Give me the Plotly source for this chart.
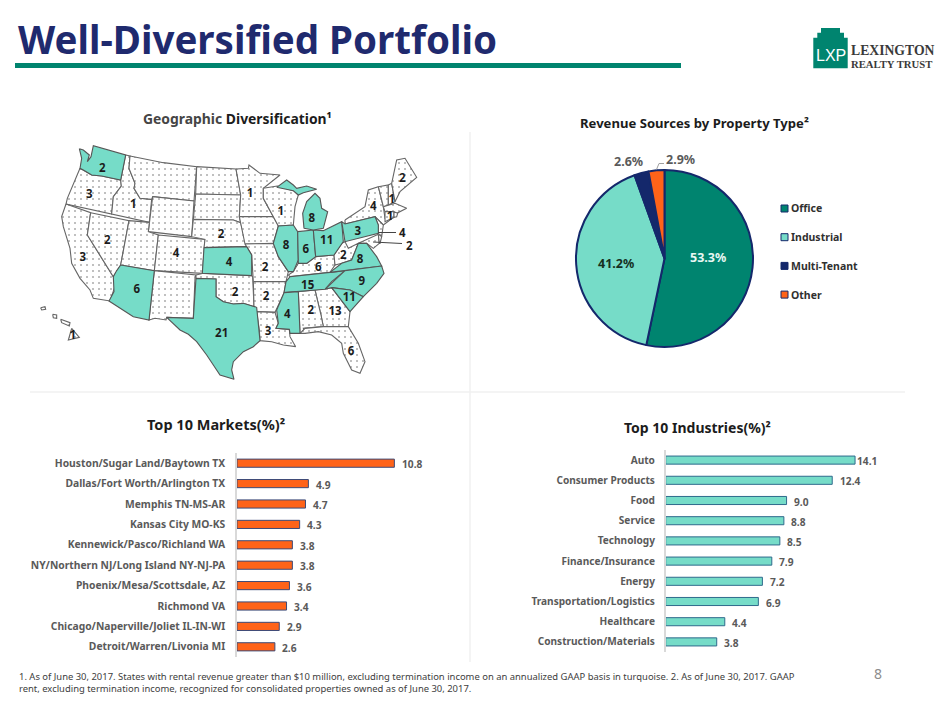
import plotly.graph_objects as go

W, H = 952, 701

# ---- data ----
market_names = ["Houston/Sugar Land/Baytown TX", "Dallas/Fort Worth/Arlington TX", "Memphis TN-MS-AR",
                "Kansas City MO-KS", "Kennewick/Pasco/Richland WA", "NY/Northern NJ/Long Island NY-NJ-PA",
                "Phoenix/Mesa/Scottsdale, AZ", "Richmond VA", "Chicago/Naperville/Joliet IL-IN-WI",
                "Detroit/Warren/Livonia MI"]
market_values = [10.8, 4.9, 4.7, 4.3, 3.8, 3.8, 3.6, 3.4, 2.9, 2.6]

industry_names = ["Auto", "Consumer Products", "Food", "Service", "Technology", "Finance/Insurance",
                  "Energy", "Transportation/Logistics", "Healthcare", "Construction/Materials"]
industry_values = [14.1, 12.4, 9.0, 8.8, 8.5, 7.9, 7.2, 6.9, 4.4, 3.8]

property_types = ["Office", "Industrial", "Multi-Tenant", "Other"]
property_values = [53.3, 41.2, 2.6, 2.9]

# outlines are in map units (1260 x 870 frame), the library has no offline state shapes
state_outlines = {
    "WA": [(148,146),(160,150),(178,165),(172,185),(183,170),(190,137),(287,165),(272,240),(215,228),(185,225),(160,210),(150,205),(155,175)],
    "OR": [(150,205),(160,210),(185,225),(215,228),(272,240),(274,258),(250,290),(245,342),(108,312),(112,295),(128,255)],
    "CA": [(108,312),(182,338),(172,405),(250,530),(258,550),(240,603),(190,595),(180,570),(150,535),(125,490),(120,445),(100,380),(95,350)],
    "NV": [(182,338),(297,362),(272,495),(258,515),(250,530),(172,405)],
    "ID": [(287,165),(300,168),(297,205),(315,250),(312,265),(330,295),(365,298),(358,367),(245,342),(250,290),(274,258),(272,240)],
    "MT": [(300,168),(400,188),(500,200),(492,303),(368,290),(365,298),(330,295),(312,265),(315,250),(297,205)],
    "WY": [(368,290),(492,303),(485,410),(355,395)],
    "UT": [(297,362),(358,367),(355,395),(385,405),(373,512),(272,495)],
    "CO": [(385,405),(525,418),(517,520),(373,512)],
    "NM": [(373,512),(498,525),(495,535),(490,655),(410,652),(408,660),(375,655),(357,660)],
    "ND": [(500,200),(618,207),(632,285),(497,282)],
    "SD": [(497,282),(632,285),(628,350),(632,368),(610,360),(490,358)],
    "NE": [(490,358),(610,360),(632,368),(650,440),(522,443),(525,418),(485,410)],
    "OK": [(498,525),(520,520),(665,527),(668,530),(672,620),(640,610),(610,612),(580,605),(558,590),(558,537),(498,535)],
    "MN": [(618,207),(655,205),(657,195),(690,220),(750,225),(700,265),(700,295),(730,350),(628,350),(632,285)],
    "IA": [(628,350),(730,350),(745,378),(730,430),(645,432),(632,368)],
    "MO": [(645,432),(730,430),(745,470),(775,515),(768,545),(670,545),(665,465)],
    "AR": [(670,545),(768,545),(762,580),(740,630),(735,637),(680,635),(672,620)],
    "LA": [(680,635),(735,637),(745,670),(738,685),(778,688),(780,710),(797,740),(775,738),(760,735),(725,725),(690,722),(688,690)],
    "WI": [(700,265),(742,258),(790,272),(805,285),(795,320),(790,375),(745,378),(730,350),(700,295)],
    "KY": [(775,525),(790,515),(805,490),(830,490),(857,470),(912,465),(915,495),(900,517),(780,530)],
    "WV": [(912,465),(935,430),(945,425),(955,445),(985,430),(965,480),(935,490),(915,495)],
    "GA": [(855,570),(905,563),(960,635),(955,680),(880,680),(873,645)],
    "AL": [(805,575),(855,570),(873,645),(880,680),(820,685),(825,700),(810,700)],
    "FL": [(810,700),(825,685),(880,680),(955,680),(985,730),(1005,785),(990,820),(965,810),(940,760),(935,730),(905,705),(865,695),(825,700)],
    "NY": [(945,360),(1005,320),(1015,270),(1045,260),(1060,320),(1065,355),(1100,345),(1060,375),(1035,350),(945,372)],
    "NJ": [(1035,350),(1060,375),(1055,410),(1045,400),(1045,375)],
    "MD": [(985,430),(1045,403),(1048,430),(1030,445),(1010,430)],
    "DE": [(1045,403),(1055,410),(1050,430),(1048,430)],
    "VT": [(1045,260),(1075,255),(1075,315),(1060,320)],
    "NH": [(1075,255),(1085,250),(1095,305),(1075,315)],
    "ME": [(1085,250),(1100,180),(1125,175),(1160,232),(1110,275),(1095,305)],
    "MA": [(1060,320),(1095,310),(1130,325),(1100,340),(1065,335)],
    "CT": [(1065,335),(1092,335),(1092,352),(1065,365)],
    "RI": [(1092,335),(1103,340),(1100,350),(1092,352)],
    "HI1": [(32,623),(45,620),(47,628),(35,630)],
    "HI2": [(68,643),(80,645),(80,655),(70,653)],
    "HI3": [(92,658),(120,668),(118,678),(95,668)],
    "HI4": [(125,685),(148,712),(115,720)],
    "AZ": [(258,515),(272,495),(373,512),(357,660),(310,650),(237,603),(252,575),(250,530)],
    "KS": [(522,443),(650,440),(665,465),(665,527),(517,520)],
    "TX": [(498,535),(558,537),(558,590),(580,605),(610,612),(640,610),(680,622),(688,690),(690,722),(670,740),(640,755),(610,785),(605,810),(612,838),(570,825),(530,765),(500,725),(475,703),(450,690),(410,652),(490,655)],
    "IL": [(745,378),(790,375),(803,395),(805,480),(790,515),(775,515),(745,470),(730,430)],
    "IN": [(803,395),(850,390),(857,470),(830,490),(805,490)],
    "OH": [(850,390),(880,392),(935,365),(940,425),(912,465),(857,470)],
    "MI": [(822,385),(818,340),(830,305),(855,280),(870,295),(875,325),(893,335),(880,385),(850,390)],
    "MI2": [(740,262),(770,240),(790,255),(800,265),(830,258),(860,268),(820,278),(805,285),(790,272)],
    "TN": [(768,545),(780,530),(900,517),(945,512),(905,545),(885,568),(762,578)],
    "VA": [(900,517),(935,490),(965,480),(985,430),(1010,430),(1040,470),(1055,498),(945,512)],
    "NC": [(885,568),(945,512),(1055,498),(1062,520),(1040,550),(1000,590),(960,570),(905,563)],
    "SC": [(905,563),(960,570),(1000,590),(965,630),(960,635)],
    "MS": [(762,578),(805,575),(810,700),(780,700),(778,688),(738,685),(745,670),(740,630)],
    "PA": [(935,365),(945,372),(1035,350),(1045,375),(1045,400),(945,425)],
}
turquoise_states = ["WA", "AZ", "TX", "KS", "IL", "IN", "OH", "MI", "MI2", "PA", "VA", "NC", "SC", "TN", "MS"]
state_count_text = ["2", "3", "3", "2", "1", "4", "6", "4", "1", "2", "2", "21", "2", "2", "3", "1", "8", "6", "11",
                    "8", "6", "15", "8", "2", "9", "11", "13", "2", "4", "6", "3", "4", "2", "1", "1", "1"]
state_count_x = [217, 178, 158, 232, 310, 438, 320, 597, 660, 705, 573, 575, 615, 708, 714, 752, 768, 827, 890,
                 845, 865, 833, 990, 940, 995, 958, 915, 842, 772, 963, 983, 1030, 1117, 1085, 1080, 128]
state_count_y = [207, 285, 475, 423, 315, 462, 570, 488, 283, 503, 405, 703, 580, 590, 697, 335, 437, 450, 423,
                 357, 505, 557, 481, 468, 545, 595, 637, 632, 645, 755, 397, 322, 237, 300, 350, 708]

# ---- style ----
FONT = "Noto Sans"
TEAL = "#00846f"
TURQ = "#76dcc8"
NAVY = "#14286b"
ORANGE = "#ff6319"
GREY = "#5a5a5a"
DARK = "#1c1c1c"


def px(x):
    return x / W


def py(y):
    return 1 - y / H


fig = go.Figure()

# map, dotted states first so the turquoise edges sit on top
for state, outline in sorted(state_outlines.items(), key=lambda kv: kv[0] in turquoise_states):
    xs = [p[0] for p in outline] + [outline[0][0]]
    ys = [p[1] for p in outline] + [outline[0][1]]
    if state in turquoise_states:
        fig.add_trace(go.Scatter(x=xs, y=ys, xaxis="x3", yaxis="y3", mode="lines", fill="toself", fillcolor=TURQ,
                                 line=dict(color="#555555", width=1.1), hoverinfo="skip", showlegend=False))
    else:
        fig.add_trace(go.Scatter(x=xs, y=ys, xaxis="x3", yaxis="y3", mode="lines", fill="toself",
                                 fillcolor="white",
                                 fillpattern=dict(shape=".", size=6, solidity=0.09, fgcolor="#555555", bgcolor="white"),
                                 line=dict(color="#666666", width=1.1), hoverinfo="skip", showlegend=False))
fig.add_trace(go.Scatter(x=state_count_x, y=state_count_y, text=state_count_text, xaxis="x3", yaxis="y3", mode="text",
                         textfont=dict(family=FONT, size=11.5, color=DARK, weight="bold"),
                         hoverinfo="skip", showlegend=False))

# pie
fig.add_trace(go.Pie(labels=property_types, values=property_values, sort=False, direction="clockwise", rotation=0,
                     marker=dict(colors=[TEAL, TURQ, NAVY, ORANGE], line=dict(color=NAVY, width=2)),
                     textinfo="none", showlegend=False, hoverinfo="skip",
                     domain=dict(x=[px(576), px(753)], y=[py(347), py(170)])))

# bars
fig.add_trace(go.Bar(x=market_values, y=market_names, orientation="h", xaxis="x", yaxis="y",
                     marker=dict(color=ORANGE, line=dict(color="#3c4a78", width=1)), showlegend=False))
fig.add_trace(go.Bar(x=industry_values, y=industry_names, orientation="h", xaxis="x2", yaxis="y2",
                     marker=dict(color=TURQ, line=dict(color="#2f6a8c", width=1)), showlegend=False))

annotations = []


def text_at(x, y, text, size, color=DARK, anchor="left", weight="bold", family=FONT):
    annotations.append(dict(xref="paper", yref="paper", x=px(x), y=py(y), text=text, showarrow=False,
                            xanchor=anchor, yanchor="middle", align=anchor,
                            font=dict(family=family, size=size, color=color, weight=weight)))


for v, name in zip(market_values, market_names):
    annotations.append(dict(x=v, y=name, xref="x", yref="y", text=f"{v:.1f}", showarrow=False, xanchor="left",
                            xshift=5.5, yshift=-1, font=dict(family=FONT, size=10.2, color=GREY, weight="bold")))
for v, name in zip(industry_values, industry_names):
    annotations.append(dict(x=v, y=name, xref="x2", yref="y2", text=f"{v:.1f}", showarrow=False, xanchor="left",
                            xshift=0 if v > 14 else 5.5, yshift=-1,
                            font=dict(family=FONT, size=10.2, color=GREY, weight="bold")))

# headings
text_at(16, 39, "Well-Diversified Portfolio", 38.5, "#1f2a6e")
text_at(237.5, 119, "<span style='color:#454545'>Geographic</span> Diversification¹", 13.9, anchor="center")
text_at(694.5, 123, "Revenue Sources by Property Type²", 13.1, anchor="center")
text_at(216, 424, "Top 10 Markets(%)²", 14.5, anchor="center")
text_at(697.5, 427, "Top 10 Industries(%)²", 14, anchor="center")

# pie labels
text_at(707.5, 257.5, f"{property_values[0]}%", 12.5, "#e8f7f3", "center")
text_at(616, 263.5, f"{property_values[1]}%", 12.5, "#15301f", "center")
text_at(628, 161.5, f"{property_values[2]}%", 12.5, GREY, "center")
text_at(680.5, 159, f"{property_values[3]}%", 12.5, GREY, "center")

# map leader labels
text_at(402, 232.5, "4", 11.5, DARK, "center")
text_at(409, 245, "2", 11.5, DARK, "center")

# footnote, page number, logo
text_at(16.5, 676.5, "1. As of June 30, 2017. States with rental revenue greater than $10 million, excluding termination income "
                     "on an annualized GAAP basis in turquoise. 2. As of June 30, 2017. GAAP", 9.44, "#404040", weight="normal")
text_at(16.5, 688, "rent, excluding termination income, recognized for consolidated properties owned as of June 30, 2017.",
        9.44, "#404040", weight="normal")
text_at(878, 673, "8", 14, "#8c8c8c", "center", "normal")
text_at(830.5, 55, "LXP", 16, "white", "center", "normal", "Liberation Sans")
text_at(849, 50.5, "LEXINGTON", 13.7, "#3a3a3a", weight="bold", family="Liberation Serif")
text_at(849, 64, "REALTY TRUST", 10.7, "#3a3a3a", weight="bold", family="Liberation Serif")

shapes = []


def line_at(x0, y0, x1, y1, color, width):
    shapes.append(dict(type="line", xref="paper", yref="paper", x0=px(x0), y0=py(y0), x1=px(x1), y1=py(y1),
                       line=dict(color=color, width=width)))


# header rule and faint panel dividers
line_at(15, 65.5, 681, 65.5, TEAL, 5)
line_at(470, 132, 470, 662, "#f0f0f0", 1.5)
line_at(30, 392, 905, 392, "#f0f0f0", 1.5)
# leaders
line_at(656.5, 169.5, 659, 163.5, "#a0a0a0", 1)
line_at(659, 163.5, 664, 163.5, "#a0a0a0", 1)
line_at(378, 232.5, 396, 232.5, "#444444", 1)
line_at(373, 242, 402, 243.5, "#444444", 1)

# pie legend
legend_colors = [TEAL, TURQ, NAVY, ORANGE]
for i, name in enumerate(property_types):
    y = 208.5 + i * 28.7
    shapes.append(dict(type="rect", xref="paper", yref="paper", x0=px(781), x1=px(788), y0=py(y + 3.5), y1=py(y - 3.5),
                       fillcolor=legend_colors[i], line=dict(color=NAVY, width=1)))
    text_at(788.5, y, name, 10.5, "#303030")

# logo building
building = [(813.3, 68.3), (813.3, 37.7), (817.3, 37.7), (817.3, 32.7), (821, 32.7), (821, 28), (840, 28), (840, 32.7),
            (844, 32.7), (844, 37.7), (847.7, 37.7), (847.7, 68.3)]
path = "M " + " L ".join(f"{px(a)},{py(b)}" for a, b in building) + " Z"
shapes.append(dict(type="path", xref="paper", yref="paper", path=path, fillcolor=TEAL, line=dict(width=0), layer="below"))

fig.update_layout(
    width=W, height=H, margin=dict(l=0, r=0, t=0, b=0), paper_bgcolor="white", plot_bgcolor="rgba(0,0,0,0)",
    bargap=0.6, annotations=annotations, shapes=shapes,
    xaxis=dict(domain=[px(237), px(437)], range=[0, 200 / 14.57], visible=False),
    yaxis=dict(domain=[py(657), py(453)], autorange="reversed", anchor="x", showgrid=False, ticks="", ticklabelstandoff=8,
               showline=True, linecolor="#d9d9d9", linewidth=1.5,
               tickfont=dict(family=FONT, size=10.3, color=GREY, weight="bold")),
    xaxis2=dict(domain=[px(665.7), px(880)], range=[0, 214.3 / 13.43], visible=False),
    yaxis2=dict(domain=[py(652), py(450)], autorange="reversed", anchor="x2", showgrid=False, ticks="", ticklabelstandoff=7,
                showline=True, linecolor="#d9d9d9", linewidth=1.5,
                tickfont=dict(family=FONT, size=10.1, color=GREY, weight="bold")),
    xaxis3=dict(domain=[px(30), px(450)], range=[0, 1260], visible=False),
    yaxis3=dict(domain=[py(390), py(100)], range=[870, 0], visible=False),
)

fig.write_html("out.html", config={"displayModeBar": False}, post_script="document.body.style.margin='0';")
